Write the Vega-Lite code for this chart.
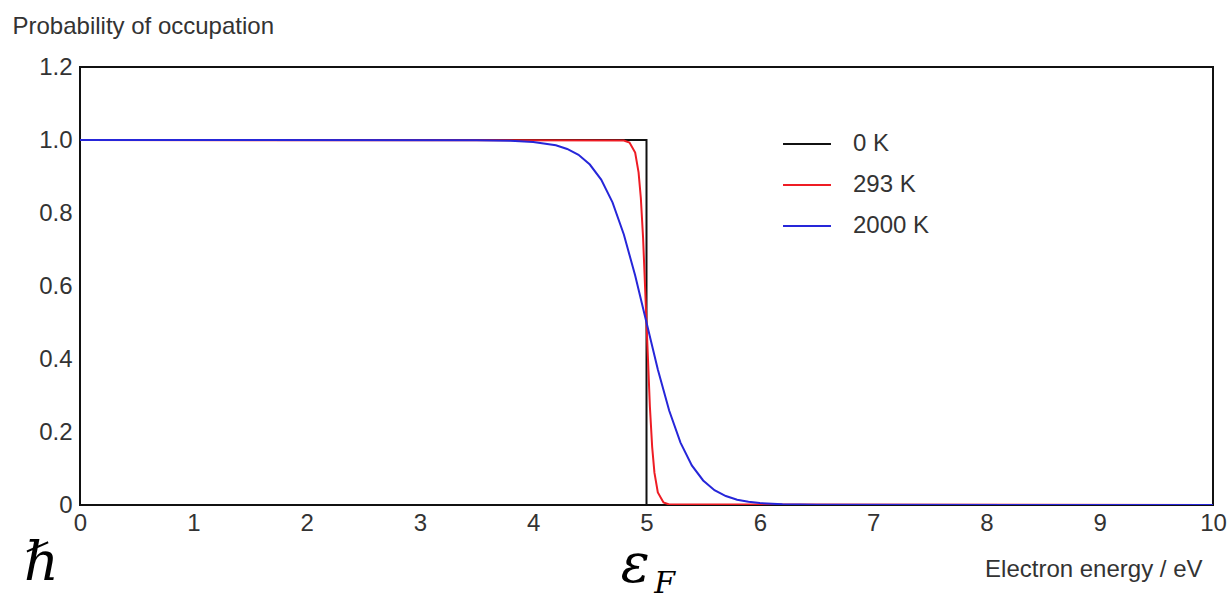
{
  "$schema": "https://vega.github.io/schema/vega-lite/v6.json",
  "width": 1133,
  "height": 438,
  "autosize": {"type": "none"},
  "padding": {"left": 80, "top": 67, "right": 16, "bottom": 94},
  "background": "white",
  "config": {
    "view": {"stroke": "#111", "strokeWidth": 2},
    "font": "Liberation Sans"
  },
  "layer": [
    {
      "data": {"values": [
        {"T": "0 K", "i": 0, "E": 0, "P": 1},
        {"T": "0 K", "i": 1, "E": 5, "P": 1},
        {"T": "0 K", "i": 2, "E": 5, "P": 0},
        {"T": "0 K", "i": 3, "E": 10, "P": 0},
        {"T": "293 K", "i": 0, "E": 0, "P": 1},
        {"T": "293 K", "i": 1, "E": 4.8, "P": 0.9987},
        {"T": "293 K", "i": 2, "E": 4.85, "P": 0.9933},
        {"T": "293 K", "i": 3, "E": 4.9, "P": 0.9655},
        {"T": "293 K", "i": 4, "E": 4.93, "P": 0.9115},
        {"T": "293 K", "i": 5, "E": 4.95, "P": 0.841},
        {"T": "293 K", "i": 6, "E": 4.97, "P": 0.731},
        {"T": "293 K", "i": 7, "E": 5.0, "P": 0.5},
        {"T": "293 K", "i": 8, "E": 5.03, "P": 0.269},
        {"T": "293 K", "i": 9, "E": 5.05, "P": 0.159},
        {"T": "293 K", "i": 10, "E": 5.07, "P": 0.0885},
        {"T": "293 K", "i": 11, "E": 5.1, "P": 0.0345},
        {"T": "293 K", "i": 12, "E": 5.15, "P": 0.0067},
        {"T": "293 K", "i": 13, "E": 5.2, "P": 0.0013},
        {"T": "293 K", "i": 14, "E": 10, "P": 0},
        {"T": "2000 K", "i": 0, "E": 0, "P": 1},
        {"T": "2000 K", "i": 1, "E": 3.5, "P": 0.9996},
        {"T": "2000 K", "i": 2, "E": 3.8, "P": 0.998},
        {"T": "2000 K", "i": 3, "E": 4.0, "P": 0.9948},
        {"T": "2000 K", "i": 4, "E": 4.2, "P": 0.9854},
        {"T": "2000 K", "i": 5, "E": 4.3, "P": 0.9754},
        {"T": "2000 K", "i": 6, "E": 4.4, "P": 0.9593},
        {"T": "2000 K", "i": 7, "E": 4.5, "P": 0.9328},
        {"T": "2000 K", "i": 8, "E": 4.6, "P": 0.8914},
        {"T": "2000 K", "i": 9, "E": 4.7, "P": 0.829},
        {"T": "2000 K", "i": 10, "E": 4.8, "P": 0.7413},
        {"T": "2000 K", "i": 11, "E": 4.9, "P": 0.6285},
        {"T": "2000 K", "i": 12, "E": 5.0, "P": 0.5},
        {"T": "2000 K", "i": 13, "E": 5.1, "P": 0.3715},
        {"T": "2000 K", "i": 14, "E": 5.2, "P": 0.2587},
        {"T": "2000 K", "i": 15, "E": 5.3, "P": 0.171},
        {"T": "2000 K", "i": 16, "E": 5.4, "P": 0.1086},
        {"T": "2000 K", "i": 17, "E": 5.5, "P": 0.0672},
        {"T": "2000 K", "i": 18, "E": 5.6, "P": 0.0407},
        {"T": "2000 K", "i": 19, "E": 5.7, "P": 0.0246},
        {"T": "2000 K", "i": 20, "E": 5.8, "P": 0.0146},
        {"T": "2000 K", "i": 21, "E": 5.9, "P": 0.0087},
        {"T": "2000 K", "i": 22, "E": 6.0, "P": 0.0052},
        {"T": "2000 K", "i": 23, "E": 6.2, "P": 0.0018},
        {"T": "2000 K", "i": 24, "E": 6.5, "P": 0.0004},
        {"T": "2000 K", "i": 25, "E": 10, "P": 0}
      ]},
      "mark": {"type": "line", "strokeWidth": 2, "clip": true},
      "encoding": {
        "x": {
          "field": "E", "type": "quantitative",
          "scale": {"domain": [0, 10], "nice": false, "zero": false},
          "axis": {
            "values": [0,1,2,3,4,5,6,7,8,9,10],
            "format": "d",
            "grid": false, "ticks": false, "domain": false,
            "labelFontSize": 24, "labelColor": "#333", "labelPadding": 6,
            "labelFlush": false,
            "title": "Electron energy / eV",
            "titleFontSize": 24, "titleFontWeight": "normal", "titleColor": "#333",
            "titleAlign": "right", "titleBaseline": "alphabetic",
            "titleX": 1122, "titleY": 71
          }
        },
        "y": {
          "field": "P", "type": "quantitative",
          "scale": {"domain": [0, 1.2], "nice": false},
          "axis": {
            "values": [0, 0.2, 0.4, 0.6, 0.8, 1.0, 1.2],
            "labelExpr": "datum.value == 0 ? '0' : format(datum.value, '.1f')",
            "grid": false, "ticks": false, "domain": false,
            "labelFontSize": 24, "labelColor": "#333", "labelPadding": 8,
            "labelFlush": false,
            "title": "Probability of occupation",
            "titleFontSize": 24, "titleFontWeight": "normal", "titleColor": "#333",
            "titleAngle": 0, "titleAlign": "left", "titleBaseline": "alphabetic",
            "titleX": -68, "titleY": -34
          }
        },
        "color": {
          "field": "T", "type": "nominal",
          "scale": {"domain": ["0 K", "293 K", "2000 K"], "range": ["#111111", "#ee1c24", "#2626d9"]},
          "legend": {
            "title": null, "orient": "none", "legendX": 702, "legendY": 52,
            "symbolType": "stroke", "symbolSize": 2300, "symbolStrokeWidth": 2,
            "labelFontSize": 24, "labelColor": "#333", "labelOffset": 21,
            "rowPadding": 4
          }
        },
        "order": {"field": "i", "type": "quantitative"}
      }
    },
    {
      "data": {"values": [
        {"E": -0.34, "P": -0.205, "s": "ℏ"},
        {"E": 4.9, "P": -0.21, "s": "ε"}
      ]},
      "mark": {"type": "text", "font": "DejaVu Serif", "fontStyle": "italic", "fontSize": 54, "align": "center", "baseline": "alphabetic", "color": "#000", "clip": false},
      "encoding": {
        "x": {"field": "E", "type": "quantitative"},
        "y": {"field": "P", "type": "quantitative"},
        "text": {"field": "s"}
      }
    },
    {
      "data": {"values": [
        {"E": 5.16, "P": -0.24, "s": "F"}
      ]},
      "mark": {"type": "text", "font": "DejaVu Serif", "fontStyle": "italic", "fontSize": 30, "align": "center", "baseline": "alphabetic", "color": "#000", "clip": false},
      "encoding": {
        "x": {"field": "E", "type": "quantitative"},
        "y": {"field": "P", "type": "quantitative"},
        "text": {"field": "s"}
      }
    }
  ]
}
